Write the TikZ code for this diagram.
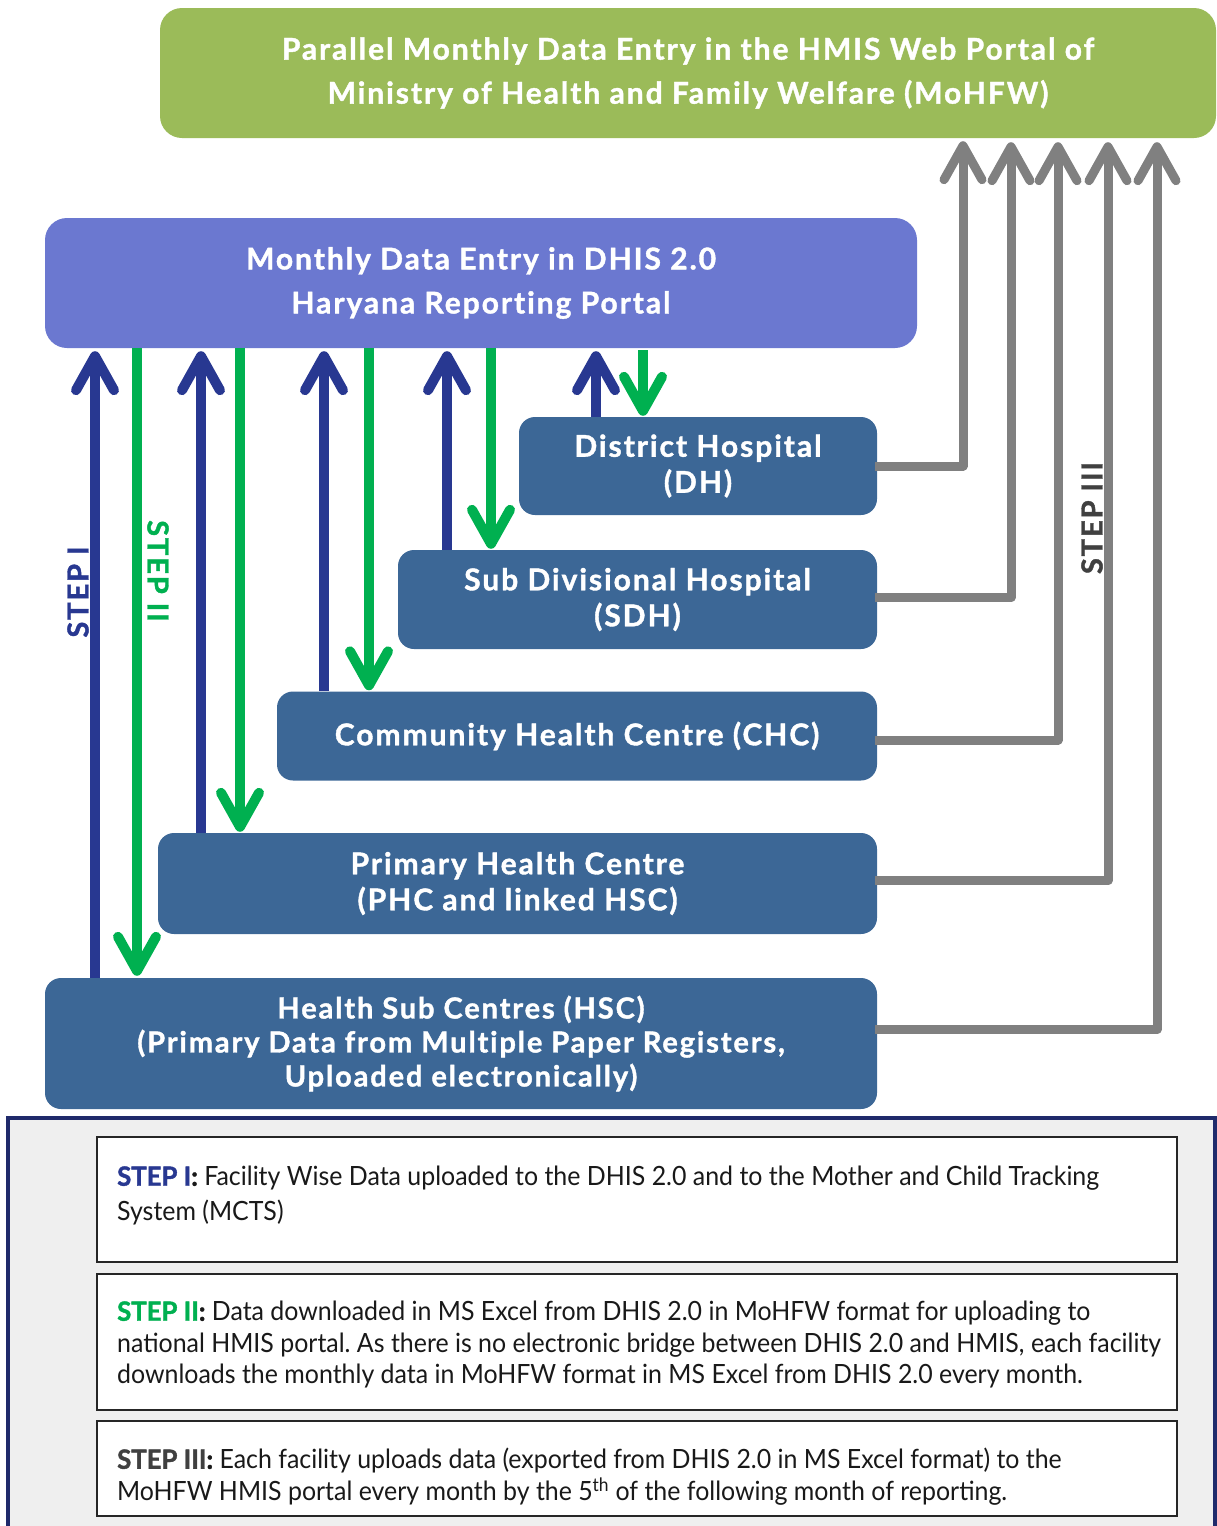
\documentclass[tikz,border=0pt]{standalone}
\usepackage{fontspec}
\setmainfont{Lato}[FakeStretch=0.94]
\newfontfamily\headfont{Lato}[LetterSpace=6.5, Ligatures={NoCommon}, BoldFeatures={FakeBold=1.3}]
\newfontfamily\notebold{Lato}[BoldFeatures={FakeBold=1.5}, FakeStretch=0.97]
\usetikzlibrary{arrows.meta}
\definecolor{topgreen}{RGB}{155,187,89}
\definecolor{portalblue}{RGB}{107,120,208}
\definecolor{facility}{RGB}{60,103,150}
\definecolor{upblue}{RGB}{40,56,145}
\definecolor{downgreen}{RGB}{0,176,80}
\definecolor{arrowgray}{RGB}{128,128,128}
\definecolor{steptgray}{RGB}{64,64,64}
\definecolor{navy}{RGB}{31,42,107}
\definecolor{panelbg}{RGB}{239,239,239}
\definecolor{bodytext}{RGB}{25,25,25}
\newcommand{\steptag}[2]{{\notebold\bfseries\color{#1}#2\color{bodytext}:}}
\frenchspacing
\begin{document}
\begin{tikzpicture}[x=1pt,y=-1pt,
  headbox/.style={rectangle, rounded corners=22pt, text=white, align=center, inner sep=0pt,
    font=\headfont\bfseries\fontsize{30}{44}\selectfont},
  facbox/.style={rectangle, rounded corners=16pt, fill=facility, text=white, align=center, inner sep=0pt,
    font=\headfont\bfseries\fontsize{30}{36}\selectfont},
  tipshape/.style={-{Straight Barb[length=34pt,width=38pt,round]}},
  uparrow/.style={draw=upblue, line width=10pt, tipshape},
  downarrow/.style={draw=downgreen, line width=10pt, tipshape},
  grayarrow/.style={draw=arrowgray, line width=9pt, line join=round, tipshape},
  steplabel/.style={font=\headfont\bfseries\fontsize{29}{30}\selectfont, inner sep=0pt},
  notebox/.style={draw=black!85, line width=1.6pt, fill=white},
  notetext/.style={anchor=north west, align=left, inner sep=0pt, text=bodytext}
]
\useasboundingbox (0,0) rectangle (1217,1526);

% main boxes
\node[headbox, fill=topgreen, minimum width=1056pt, minimum height=130pt] (hmis) at (688,73)
  {Parallel Monthly Data Entry in the HMIS Web Portal of\\Ministry of Health and Family Welfare (MoHFW)};
\node[headbox, fill=portalblue, minimum width=872pt, minimum height=130pt] (dhis) at (481,283)
  {Monthly Data Entry in DHIS 2.0\\Haryana Reporting Portal};
\node[facbox, minimum width=358pt, minimum height=98pt] (dh) at (698,466) {District Hospital\\(DH)};
\node[facbox, minimum width=479pt, minimum height=99pt] (sdh) at (637.5,599.5) {Sub Divisional Hospital\\(SDH)};
\node[facbox, minimum width=600pt, minimum height=89pt] (chc) at (577,736) {Community Health Centre (CHC)};
\node[facbox, minimum width=719pt, minimum height=101pt] (phc) at (517.5,883.5) {Primary Health Centre\\(PHC and linked HSC)};
\node[facbox, minimum width=832pt, minimum height=131pt, font=\headfont\bfseries\fontsize{29}{34}\selectfont] (hsc) at (461,1043.5)
  {Health Sub Centres (HSC)\\(Primary Data from Multiple Paper Registers,\\Uploaded electronically)};

% column coordinates
\coordinate (b1) at (95,0);  \coordinate (g1) at (137,0);
\coordinate (b2) at (201,0); \coordinate (g2) at (240,0);
\coordinate (b3) at (324,0); \coordinate (g3) at (369,0);
\coordinate (b4) at (447,0); \coordinate (g4) at (491,0);
\coordinate (b5) at (596,0); \coordinate (g5) at (643,0);
\coordinate (r1) at (963,0); \coordinate (r2) at (1011,0);
\coordinate (r3) at (1058,0); \coordinate (r4) at (1108,0);
\coordinate (r5) at (1157,0);

% step I (up, blue)
\draw[uparrow] (hsc.north -| b1) -- ([yshift=-3pt]dhis.south -| b1);
\draw[uparrow] (phc.north -| b2) -- ([yshift=-3pt]dhis.south -| b2);
\draw[uparrow] (chc.north -| b3) -- ([yshift=-3pt]dhis.south -| b3);
\draw[uparrow] (sdh.north -| b4) -- ([yshift=-3pt]dhis.south -| b4);
\draw[uparrow] (dh.north -| b5) -- ([yshift=-3pt]dhis.south -| b5);

% step II (down, green)
\draw[downarrow] (dhis.south -| g1) -- ([yshift=2pt]hsc.north -| g1);
\draw[downarrow] (dhis.south -| g2) -- ([yshift=1pt]phc.north -| g2);
\draw[downarrow] (dhis.south -| g3) -- ([yshift=1pt]chc.north -| g3);
\draw[downarrow] (dhis.south -| g4) -- ([yshift=1pt]sdh.north -| g4);
\draw[downarrow] ([yshift=-2pt]dhis.south -| g5) -- ([yshift=1pt]dh.north -| g5);

% step III (gray, to HMIS)
\draw[grayarrow] ([xshift=-2pt]dh.east) -- (dh.east -| r1) -- ([yshift=-3pt]hmis.south -| r1);
\draw[grayarrow] ([xshift=-2pt,yshift=2pt]sdh.east) -- ([yshift=2pt]sdh.east -| r2) -- ([yshift=-4pt]hmis.south -| r2);
\draw[grayarrow] ([xshift=-2pt,yshift=-4pt]chc.east) -- ([yshift=-4pt]chc.east -| r3) -- ([yshift=-4pt]hmis.south -| r3);
\draw[grayarrow] ([xshift=-2pt,yshift=3pt]phc.east) -- ([yshift=3pt]phc.east -| r4) -- ([yshift=-4pt]hmis.south -| r4);
\draw[grayarrow] ([xshift=-2pt,yshift=14pt]hsc.east) -- ([yshift=14pt]hsc.east -| r5) -- ([yshift=-4pt]hmis.south -| r5);

% step labels
\node[steplabel, text=upblue, rotate=90] (lab1) at (78,592) {STEP I};
\node[steplabel, text=downgreen, rotate=-90] (lab2) at (158,571) {STEP II};
\node[steplabel, text=steptgray, rotate=90] (lab3) at (1092,518) {STEP III};

% legend panel
\draw[fill=panelbg, draw=navy, line width=4pt] (8,1118) rectangle (1215,1560);
\node[notebox, minimum width=1080pt, minimum height=125pt] (n1) at (637,1199.5) {};
\node[notebox, minimum width=1080pt, minimum height=136pt] (n2) at (637,1342) {};
\node[notebox, minimum width=1080pt, minimum height=95pt] (n3) at (637,1468.5) {};

\node[notetext, font=\fontsize{26.5}{35}\selectfont] (t1) at (117,1166)
  {\steptag{upblue}{STEP I} Facility Wise Data uploaded to the DHIS 2.0 and to the Mother and Child Tracking\\System (MCTS)};
\node[notetext, font=\fontsize{26.5}{31.5}\selectfont] (t2) at (117,1301)
  {\steptag{downgreen}{STEP II} Data downloaded in MS Excel from DHIS 2.0 in MoHFW format for uploading to\\national HMIS portal. As there is no electronic bridge between DHIS 2.0 and HMIS, each facility\\downloads the monthly data in MoHFW format in MS Excel from DHIS 2.0 every month.};
\node[notetext, font=\fontsize{26.5}{32}\selectfont] (t3) at (117,1448)
  {\steptag{steptgray}{STEP III} Each facility uploads data (exported from DHIS 2.0 in MS Excel format) to the\\MoHFW HMIS portal every month by the 5\textsuperscript{th} of the following month of reporting.};
\end{tikzpicture}
\end{document}
